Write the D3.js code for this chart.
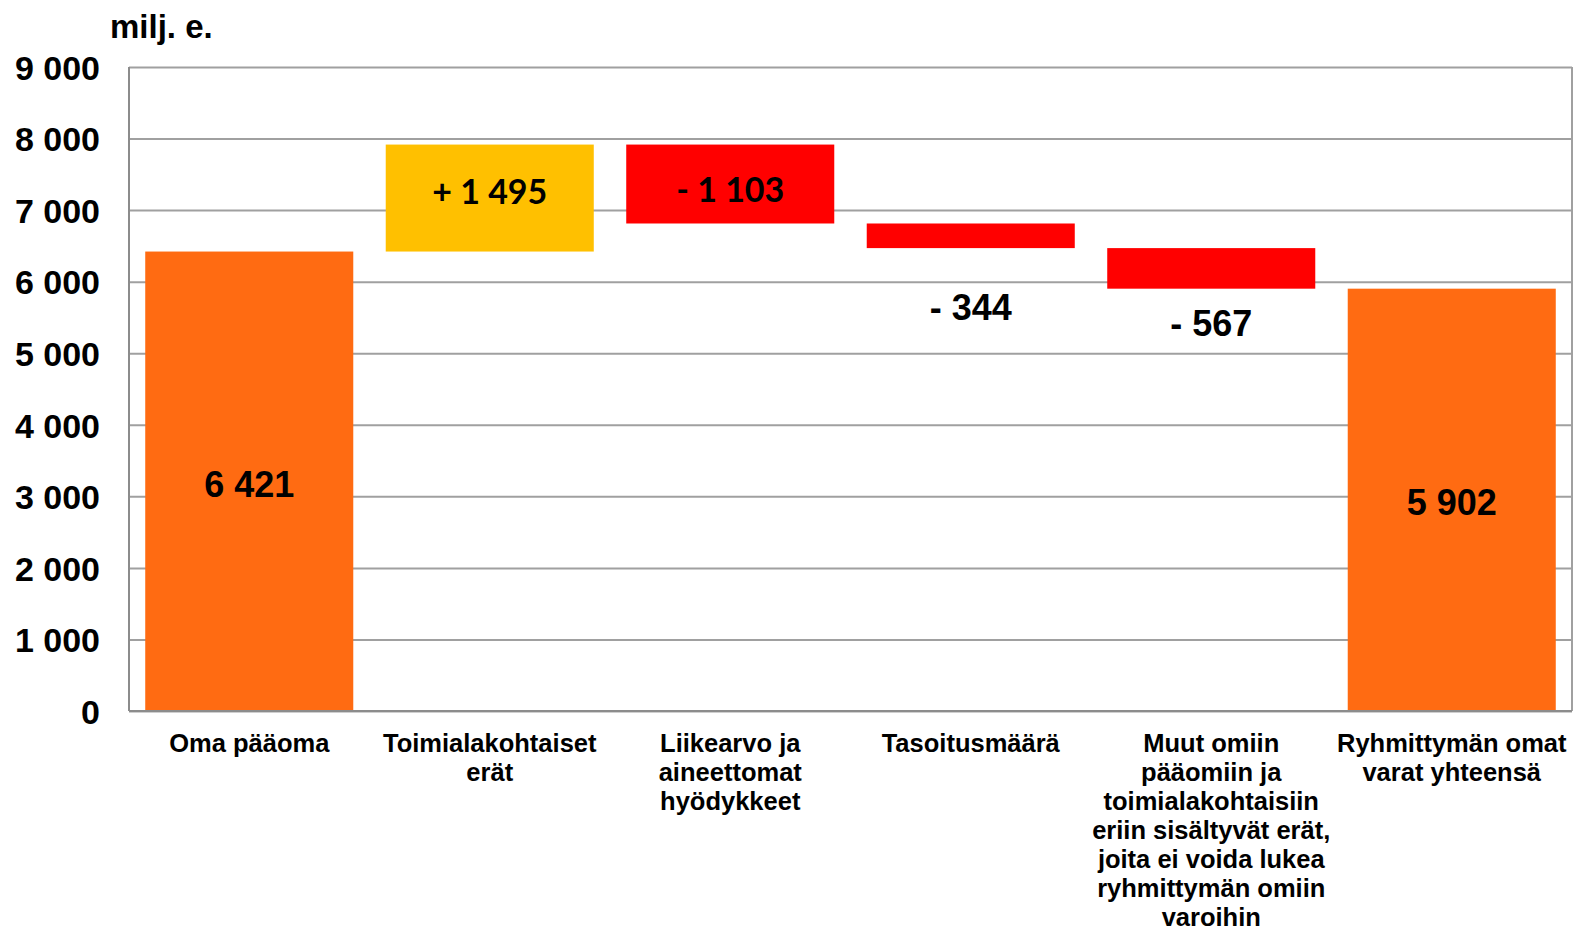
<!DOCTYPE html>
<html>
<head>
<meta charset="utf-8">
<script src="https://cdn.jsdelivr.net/npm/d3@7"></script>
<style>
  body { margin: 0; background: #fff; }
  text { font-family: "Liberation Sans", Arial, sans-serif; font-weight: bold; fill: #000; }
</style>
</head>
<body>
<div class="canvas"></div>
<script>
// data
const categories = [
  "Oma pääoma",
  "Toimialakohtaiset\nerät",
  "Liikearvo ja\naineettomat\nhyödykkeet",
  "Tasoitusmäärä",
  "Muut omiin\npääomiin ja\ntoimialakohtaisiin\neriin sisältyvät erät,\njoita ei voida lukea\nryhmittymän omiin\nvaroihin",
  "Ryhmittymän omat\nvarat yhteensä"
];
const deltas = [6421, 1495, -1103, -344, -567, 5902];
const barKinds = ["total", "up", "down", "down", "down", "total"];
const valueLabels = ["6 421", "+ 1 495", "- 1 103", "- 344", "- 567", "5 902"];
const yTicks = [0, 1000, 2000, 3000, 4000, 5000, 6000, 7000, 8000, 9000];
const unitLabel = "milj. e.";

// layout / style
const width = 1574, height = 930;
const plot = {left: 129, right: 1572, top: 67, bottom: 711};
const colors = {total: "#FF6B12", up: "#FFC000", down: "#FF0000"};
// label baseline shift from bar middle (px) and label font
const labelShift = [16, 6, 18, 84, 68, 15];
const labelFont = ["Liberation Sans", "Lato", "Lato", "Liberation Sans", "Liberation Sans", "Liberation Sans"];

// running totals for waterfall
let running = 0;
const bars = deltas.map((d, i) => {
  let y0, y1;
  if (barKinds[i] === "total") { y0 = 0; y1 = d; running = d; }
  else { y0 = running; y1 = running + d; running = y1; }
  return {cat: categories[i], lo: Math.min(y0, y1), hi: Math.max(y0, y1), kind: barKinds[i], label: valueLabels[i], i};
});

const svg = d3.select(".canvas").append("svg")
  .attr("width", width).attr("height", height);

const x = d3.scaleBand().domain(categories).range([plot.left, plot.right])
  .paddingInner(0.135).paddingOuter(0.0675);
const y = d3.scaleLinear().domain([0, 9000]).range([plot.bottom, plot.top]);

const fmt = d3.formatLocale({decimal: ",", thousands: " ", grouping: [3], currency: ["", ""]}).format(",d");

// gridlines + y labels
const yAxis = svg.append("g")
  .attr("transform", `translate(${plot.left},0)`)
  .call(d3.axisLeft(y).tickValues(yTicks).tickFormat(fmt)
    .tickSize(-(plot.right - plot.left)).tickPadding(29));
yAxis.select(".domain").remove();
yAxis.selectAll(".tick line").attr("stroke", "#A0A0A0").attr("stroke-width", 2);
yAxis.selectAll(".tick text")
  .attr("font-size", 34).attr("dy", "0.36em")
  .attr("font-family", "Liberation Sans, Arial, sans-serif").attr("font-weight", "bold");

// frame
svg.append("line").attr("x1", plot.left).attr("x2", plot.left)
  .attr("y1", plot.top).attr("y2", plot.bottom).attr("stroke", "#8C8C8C").attr("stroke-width", 2);
svg.append("line").attr("x1", plot.right).attr("x2", plot.right)
  .attr("y1", plot.top).attr("y2", plot.bottom).attr("stroke", "#A0A0A0").attr("stroke-width", 2);

// bars
svg.append("g").selectAll("rect").data(bars).join("rect")
  .attr("x", d => x(d.cat))
  .attr("width", x.bandwidth())
  .attr("y", d => y(d.hi))
  .attr("height", d => y(d.lo) - y(d.hi))
  .attr("fill", d => colors[d.kind]);

// baseline over bars
svg.append("line").attr("x1", plot.left).attr("x2", plot.right)
  .attr("y1", plot.bottom).attr("y2", plot.bottom).attr("stroke", "#8C8C8C").attr("stroke-width", 2);

// value labels
svg.append("g").selectAll("text").data(bars).join("text")
  .attr("x", d => x(d.cat) + x.bandwidth() / 2)
  .attr("y", d => (y(d.lo) + y(d.hi)) / 2 + labelShift[d.i])
  .attr("text-anchor", "middle")
  .attr("font-size", d => labelFont[d.i] === "Lato" ? 34 : 36)
  .style("font-family", d => labelFont[d.i])
  .text(d => d.label);

// category labels
const catG = svg.append("g");
categories.forEach(c => {
  const t = catG.append("text")
    .attr("x", x(c) + x.bandwidth() / 2)
    .attr("y", 752)
    .attr("text-anchor", "middle")
    .attr("font-size", 25.5);
  c.split("\n").forEach((line, j) => {
    t.append("tspan").attr("x", x(c) + x.bandwidth() / 2)
      .attr("dy", j === 0 ? 0 : 29).text(line);
  });
});

// unit
svg.append("text").attr("x", 110).attr("y", 38)
  .attr("font-size", 33).text(unitLabel);
</script>
</body>
</html>
